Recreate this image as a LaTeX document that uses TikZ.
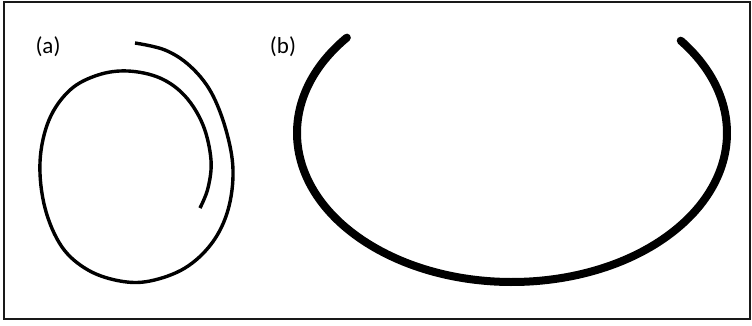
\documentclass[tikz,border=0pt]{standalone}
\usepackage{fontspec}
\setmainfont{Carlito}
\begin{document}
\begin{tikzpicture}[x=1pt,y=-1pt,
  frame/.style={draw=black!90,line width=2.2pt},
  thinwire/.style={draw=black,line width=3.4pt},
  thickwire/.style={draw=black,line width=8pt,line cap=round},
  lab/.style={font=\fontsize{23}{26}\selectfont,inner sep=0pt}]
\useasboundingbox (0,0) rectangle (752,325);
\fill[white] (0,0) rectangle (752,325);
\draw[frame] (4,2) rectangle (750,319);
\node[lab] (la) at (48,47) {(a)};
\node[lab] (lb) at (283,47) {(b)};
% (a) spiral
\draw[thinwire] plot[smooth,tension=0.6] coordinates {
 (135,43) (165,50) (190,66) (211,92) (226,130) (233,170) (228,210)
 (212,243) (185,268) (150,281) (120,281) (88,270) (62,247) (45,208)
 (40,162) (49,120) (70,90) (98,75) (128,71) (160,78) (185,96)
 (203,125) (211,160) (208,188) (200,208)};
% (b) U arc
\draw[thickwire] (512,133) ++(219.8:215 and 149) arc[start angle=219.8,end angle=-38.3,x radius=215,y radius=149];
\end{tikzpicture}
\end{document}
